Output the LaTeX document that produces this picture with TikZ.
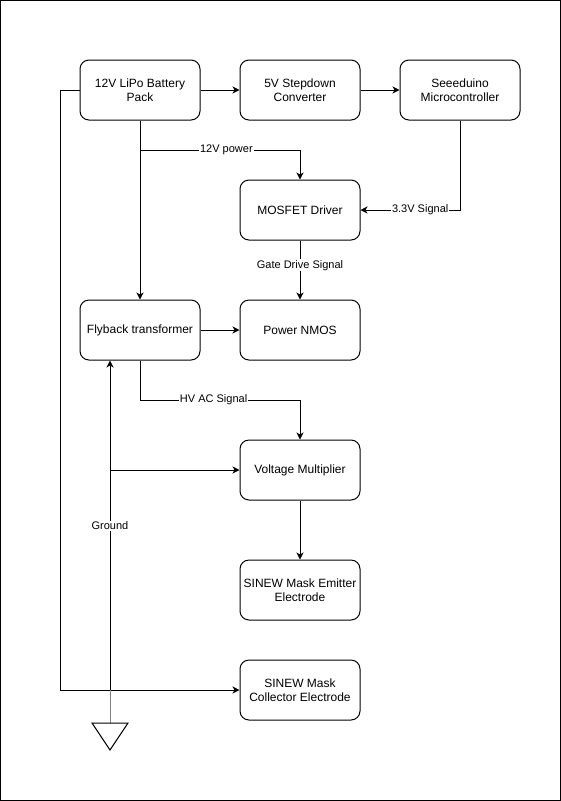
\documentclass[tikz,border=0pt]{standalone}
\usepackage{fontspec}
\setmainfont{Liberation Sans}
\usetikzlibrary{arrows.meta}
\tikzset{
    block/.style={draw, line width=1pt, rounded corners=9pt, minimum width=120pt, minimum height=60pt, align=center, font=\fontsize{12}{14}\selectfont, inner sep=0pt},
    arr/.style={line width=1pt, -{Stealth[length=7pt,width=7pt,inset=2pt]}},
    wire/.style={line width=1pt},
    lbl/.style={fill=white, inner sep=1pt, font=\fontsize{11}{13}\selectfont}
}
\begin{document}
\begin{tikzpicture}[x=1pt,y=-1pt]
    \useasboundingbox (0,0) rectangle (561,801);
    \draw[line width=1pt] (0.5,0.5) rectangle (560.5,800.5);
    % blocks
    \node[block] (batt) at (140,90) {12V LiPo Battery\\Pack};
    \node[block] (step) at (300,90) {5V Stepdown\\Converter};
    \node[block] (mcu) at (460,90) {Seeeduino\\Microcontroller};
    \node[block] (drv) at (300,210) {MOSFET Driver};
    \node[block] (fly) at (140,330) {Flyback transformer};
    \node[block] (nmos) at (300,330) {Power NMOS};
    \node[block] (vm) at (300,470) {Voltage Multiplier};
    \node[block] (emit) at (300,590) {SINEW Mask Emitter\\Electrode};
    \node[block] (coll) at (300,690) {SINEW Mask\\Collector Electrode};
    % bend points
    \coordinate (p12) at (140,150);
    \coordinate (phv) at (140,400);
    \coordinate (pout) at (60,690);
    \coordinate (gx) at (110,690);
    \coordinate (gvm) at (110,470);
    \coordinate (gnd) at (110,723);
    % connectors
    \draw[arr] (batt.east) -- (step.west);
    \draw[arr] (step.east) -- (mcu.west);
    \draw[arr] (batt.south) -- (fly.north);
    \draw[arr] (p12) -| (drv.north) node[lbl,pos=0.27] (l12) {12V power};
    \draw[arr] (mcu.south) |- (drv.east) node[lbl,pos=0.7] (l33) {3.3V Signal};
    \draw[arr] (drv.south) -- (nmos.north) node[lbl,pos=0.42] (lgate) {Gate Drive Signal};
    \draw[arr] (fly.east) -- (nmos.west);
    \draw[wire] (fly.south) -- (phv);
    \draw[arr] (phv) -| (vm.north) node[lbl,pos=0.23] (lhv) {HV AC Signal};
    \draw[arr] (vm.south) -- (emit.north);
    \draw[arr] (batt.west) -| (pout) -- (coll.west);
    % ground
    \draw[line width=1pt, gray] (gnd) -- (gx);
    \draw[arr] (gx) -- (fly.south -| gx);
    \draw[arr] (gvm) -- (vm.west);
    \node[lbl] (lgnd) at (110,526) {Ground};
    \draw[line width=1pt, line join=miter] (gnd) -- (92,723) -- (110,750) -- (128,723) -- cycle;
\end{tikzpicture}
\end{document}
